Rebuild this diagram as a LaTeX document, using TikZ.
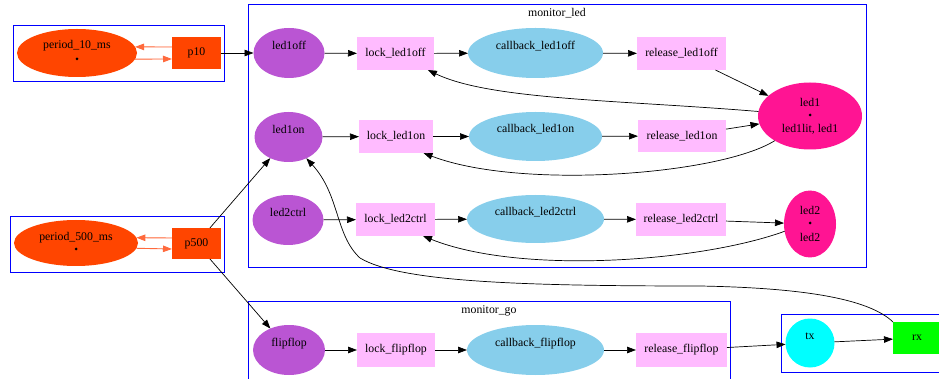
\documentclass[tikz,border=0pt]{standalone}
\usepackage{fontspec}
\setmainfont{Liberation Serif}
\usetikzlibrary{shapes.geometric,arrows.meta,calc}
\definecolor{orchidc}{HTML}{BA55D3}
\definecolor{lockc}{HTML}{FFBBFF}
\definecolor{skyc}{HTML}{87CEEB}
\definecolor{pinkc}{HTML}{FF1493}
\definecolor{orc}{HTML}{FF4500}
\definecolor{orangeedge}{HTML}{FF6A3D}
\definecolor{cyanc}{HTML}{00FFFF}
\definecolor{greenc}{HTML}{00FF00}
\definecolor{blc}{HTML}{0000FF}
\begin{document}
\begin{tikzpicture}[x=1pt,y=-1pt,
  every node/.style={font=\fontsize{11.8}{13}\selectfont, inner sep=0pt, outer sep=0pt},
  clus/.style={draw=blc, line width=0.8pt},
  ell/.style={ellipse, fill=#1},
  box/.style={rectangle, fill=#1},
  up/.style={text height=8pt, text depth=15pt},
  arr/.style={-{Triangle[length=9pt,width=6.5pt]}, line width=0.7pt},
  oarr/.style={arr, draw=orangeedge, fill=orangeedge, line width=0.9pt},
  dotm/.style={circle, fill=black, minimum size=3pt}
]
\useasboundingbox (0,0) rectangle (939,379);

% clusters
\draw[clus] (13,25) rectangle (224,81);
\draw[clus] (10,216) rectangle (224,272);
\draw[clus] (248,4) rectangle (866,267);
\draw[clus] (248,301) rectangle (730,385);
\draw[clus] (781,314) rectangle (945,372);
\node (lblled) at (557,13) {monitor\_led};
\node (lblgo) at (489,311) {monitor\_go};

% period 10
\node[ell=orc, minimum width=120pt, minimum height=48pt] (period10) at (77,53) {};
\node (period10t) at (77,46) {period\_10\_ms};
\node[dotm] (period10d) at (77,59) {};
\node[box=orc, minimum width=49pt, minimum height=32pt] (p10) at (196.5,53) {p10};

% period 500
\node[ell=orc, minimum width=124pt, minimum height=46pt] (period500) at (76,243) {};
\node (period500t) at (76,237.5) {period\_500\_ms};
\node[dotm] (period500d) at (76,249) {};
\node[box=orc, minimum width=49pt, minimum height=31pt] (p500) at (196.5,243.5) {p500};

% row 1
\node[ell=orchidc, minimum width=71pt, minimum height=50pt, up] (led1off) at (289,53) {led1off};
\node[box=lockc, minimum width=77pt, minimum height=33pt] (lockoff) at (395.5,53.5) {lock\_led1off};
\node[ell=skyc, minimum width=135pt, minimum height=50pt, up] (cboff) at (535.5,53) {callback\_led1off};
\node[box=lockc, minimum width=89pt, minimum height=33pt] (reloff) at (681.5,53.5) {release\_led1off};

% row 2
\node[ell=orchidc, minimum width=68pt, minimum height=50pt, up] (led1on) at (288.5,137) {led1on};
\node[box=lockc, minimum width=74pt, minimum height=33pt] (lockon) at (396,136.5) {lock\_led1on};
\node[ell=skyc, minimum width=133pt, minimum height=49pt, up] (cbon) at (535.5,136.5) {callback\_led1on};
\node[box=lockc, minimum width=88pt, minimum height=32pt] (relon) at (682,136) {release\_led1on};

% row 3
\node[ell=orchidc, minimum width=71pt, minimum height=50pt, up] (led2ctrl) at (288,220) {led2ctrl};
\node[box=lockc, minimum width=79pt, minimum height=33pt] (lockctrl) at (395.5,219.5) {lock\_led2ctrl};
\node[ell=skyc, minimum width=137pt, minimum height=48pt, up] (cbctrl) at (535.5,219) {callback\_led2ctrl};
\node[box=lockc, minimum width=90pt, minimum height=33pt] (relctrl) at (681,219.5) {release\_led2ctrl};

% led outputs
\node[ell=pinkc, minimum width=104pt, minimum height=67pt] (led1) at (810,116) {};
\node (led1a) at (810,102) {led1};
\node[dotm] (led1d) at (810,115) {};
\node (led1b) at (810,129) {led1lit, led1};
\node[ell=pinkc, minimum width=52pt, minimum height=67pt] (led2) at (810,224) {};
\node (led2a) at (810,210) {led2};
\node[dotm] (led2d) at (810,223) {};
\node (led2b) at (810,237) {led2};

% monitor_go row
\node[ell=orchidc, minimum width=72pt, minimum height=50pt, up] (flip) at (289,350) {flipflop};
\node[box=lockc, minimum width=78pt, minimum height=34pt] (lockflip) at (396,350) {lock\_flipflop};
\node[ell=skyc, minimum width=137pt, minimum height=50pt, up] (cbflip) at (535.5,350) {callback\_flipflop};
\node[box=lockc, minimum width=91pt, minimum height=34pt] (relflip) at (681.5,350) {release\_flipflop};

% tx / rx
\node[circle, fill=cyanc, minimum size=49pt, up] (tx) at (810,343) {tx};
\node[box=greenc, minimum width=48pt, minimum height=32pt] (rx) at (917,338) {rx};

% orange edges
\draw[oarr] ($(p10.west)+(0,-6)$) -- (period10.6);
\draw[oarr] (period10.-6) -- ($(p10.west)+(0,6)$);
\draw[oarr] ($(p500.west)+(0,-5.5)$) -- (period500.5);
\draw[oarr] (period500.-5) -- ($(p500.west)+(0,5.5)$);

% black edges
\draw[arr] (p10) -- (led1off);
\draw[arr] (p500) -- (led1on);
\draw[arr] (p500) -- (flip);

\draw[arr] (led1off) -- (lockoff);
\draw[arr] (lockoff) -- (cboff);
\draw[arr] (cboff) -- (reloff);
\draw[arr] (reloff) -- (led1);

\draw[arr] (led1on) -- (lockon);
\draw[arr] (lockon) -- (cbon);
\draw[arr] (cbon) -- (relon);
\draw[arr] (relon) -- (led1);

\draw[arr] (led2ctrl) -- (lockctrl);
\draw[arr] (lockctrl) -- (cbctrl);
\draw[arr] (cbctrl) -- (relctrl);
\draw[arr] (relctrl) -- (led2);

\draw[arr] (flip) -- (lockflip);
\draw[arr] (lockflip) -- (cbflip);
\draw[arr] (cbflip) -- (relflip);
\draw[arr] (relflip) -- (tx);
\draw[arr] (tx) -- (rx);

\draw[arr] (led1.175) .. controls (620,100) and (490,100) .. (lockoff.-27);
\draw[arr] (led1.215) .. controls (720,175) and (520,190) .. (lockon.-31);
\draw[arr] (led2.196) .. controls (700,262) and (520,275) .. (lockctrl.-31);
\draw[arr] (rx.north west) .. controls (870,300) and (810,288) .. (700,286)
   .. controls (520,286) and (400,282) .. (360,258)
   .. controls (335,235) and (340,195) .. (led1on.-50);

\end{tikzpicture}
\end{document}
